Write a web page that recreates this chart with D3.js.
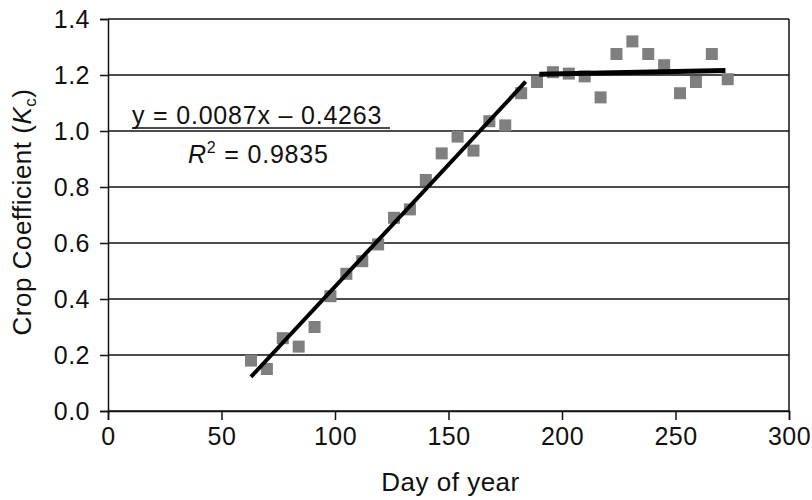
<!DOCTYPE html>
<html>
<head>
<meta charset="utf-8">
<script src="https://cdn.jsdelivr.net/npm/d3@7"></script>
<style>
  body { margin: 0; background: #fff; }
  svg { display: block; font-family: "Liberation Sans", Arial, sans-serif; }
</style>
</head>
<body>
<svg class="kcChart"></svg>
<script>
// Crop coefficient vs day of year
const days = [63, 70, 77, 84, 91, 98, 105, 112, 119, 126, 133, 140, 147, 154, 161, 168,
              175, 182, 189, 196, 203, 210, 217, 224, 231, 238, 245, 252, 259, 266, 273]
const kc = [0.18, 0.15, 0.26, 0.23, 0.30, 0.41, 0.49, 0.535, 0.595, 0.69, 0.72, 0.825,
            0.92, 0.98, 0.93, 1.035, 1.02, 1.135, 1.175, 1.21, 1.205, 1.195, 1.12, 1.275,
            1.32, 1.275, 1.235, 1.135, 1.175, 1.275, 1.185]

// two fitted segments: rising line and plateau
const riseLine = [[63, 0.122], [184, 1.176]]
const flatLine = [[190, 1.203], [272, 1.216]]

const xTicks = [0, 50, 100, 150, 200, 250, 300]
const yTicks = [0.0, 0.2, 0.4, 0.6, 0.8, 1.0, 1.2, 1.4]

const width = 812, height = 500
const margin = { left: 108, right: 23, top: 19, bottom: 89 }

const svg = d3.select("svg.kcChart")
    .attr("width", width)
    .attr("height", height)

const x = d3.scaleLinear().domain([0, 300]).range([margin.left, width - margin.right])
const y = d3.scaleLinear().domain([0, 1.4]).range([height - margin.bottom, margin.top])

// horizontal grid lines
svg.append("g")
    .selectAll("line")
    .data(yTicks)
    .join("line")
    .attr("x1", x(0))
    .attr("x2", x(300))
    .attr("y1", d => y(d))
    .attr("y2", d => y(d))
    .attr("stroke", "#111")
    .attr("stroke-width", 1.5)

// right frame
svg.append("line")
    .attr("x1", x(300)).attr("x2", x(300))
    .attr("y1", y(1.4)).attr("y2", y(0))
    .attr("stroke", "#111").attr("stroke-width", 1.5)

const yAxis = svg.append("g")
    .attr("transform", `translate(${x(0)},0)`)
    .call(d3.axisLeft(y).tickValues(yTicks).tickFormat(d3.format(".1f")).tickSize(8).tickPadding(10))
const xAxis = svg.append("g")
    .attr("transform", `translate(0,${y(0)})`)
    .call(d3.axisBottom(x).tickValues(xTicks).tickSize(9).tickPadding(7))

for (const ax of [xAxis, yAxis]) {
    ax.select(".domain").attr("stroke", "#111").attr("stroke-width", 1.5)
    ax.selectAll(".tick line").attr("stroke", "#111").attr("stroke-width", 1.5)
    ax.selectAll(".tick text")
        .attr("fill", "#111")
        .style("font-size", "25px")
        .style("letter-spacing", "0.5px")
        .style("font-family", "Liberation Sans, Arial, sans-serif")
}

// data squares
const sq = 12
svg.append("g")
    .selectAll("rect")
    .data(days.map((d, i) => [d, kc[i]]))
    .join("rect")
    .attr("x", d => x(d[0]) - sq / 2)
    .attr("y", d => y(d[1]) - sq / 2)
    .attr("width", sq)
    .attr("height", sq)
    .attr("fill", "#7f7f7f")

const line = d3.line().x(d => x(d[0])).y(d => y(d[1]))
svg.append("path").datum(riseLine)
    .attr("d", line).attr("fill", "none")
    .attr("stroke", "#000").attr("stroke-width", 4)
svg.append("path").datum(flatLine)
    .attr("d", line).attr("fill", "none")
    .attr("stroke", "#000").attr("stroke-width", 5)

// regression annotation
svg.append("text")
    .attr("x", 132).attr("y", 124)
    .attr("font-size", 25).attr("fill", "#111")
    .attr("letter-spacing", 0.8)
    .text("y = 0.0087x – 0.4263")
svg.append("line")
    .attr("x1", 132).attr("x2", 390)
    .attr("y1", 128).attr("y2", 128)
    .attr("stroke", "#111").attr("stroke-width", 1.5)
const r2 = svg.append("text")
    .attr("x", 188).attr("y", 163)
    .attr("font-size", 25).attr("fill", "#111")
    .attr("letter-spacing", 0.8)
r2.append("tspan").attr("font-style", "italic").text("R")
r2.append("tspan").attr("font-size", 16).attr("dy", -10).text("2")
r2.append("tspan").attr("dy", 10).text(" = 0.9835")

// axis titles
svg.append("text")
    .attr("x", (x(0) + x(300)) / 2 + 2).attr("y", 491)
    .attr("text-anchor", "middle")
    .attr("font-size", 26).attr("fill", "#111")
    .attr("letter-spacing", 0.5)
    .text("Day of year")

const yt = svg.append("text")
    .attr("transform", "translate(31,212) rotate(-90)")
    .attr("text-anchor", "middle")
    .attr("font-size", 26).attr("fill", "#111")
    .attr("letter-spacing", 0.5)
yt.append("tspan").text("Crop Coefficient (")
yt.append("tspan").attr("font-style", "italic").text("K")
yt.append("tspan").attr("font-size", 17).attr("dy", 5).text("c")
yt.append("tspan").attr("dy", -5).text(")")
</script>
</body>
</html>
